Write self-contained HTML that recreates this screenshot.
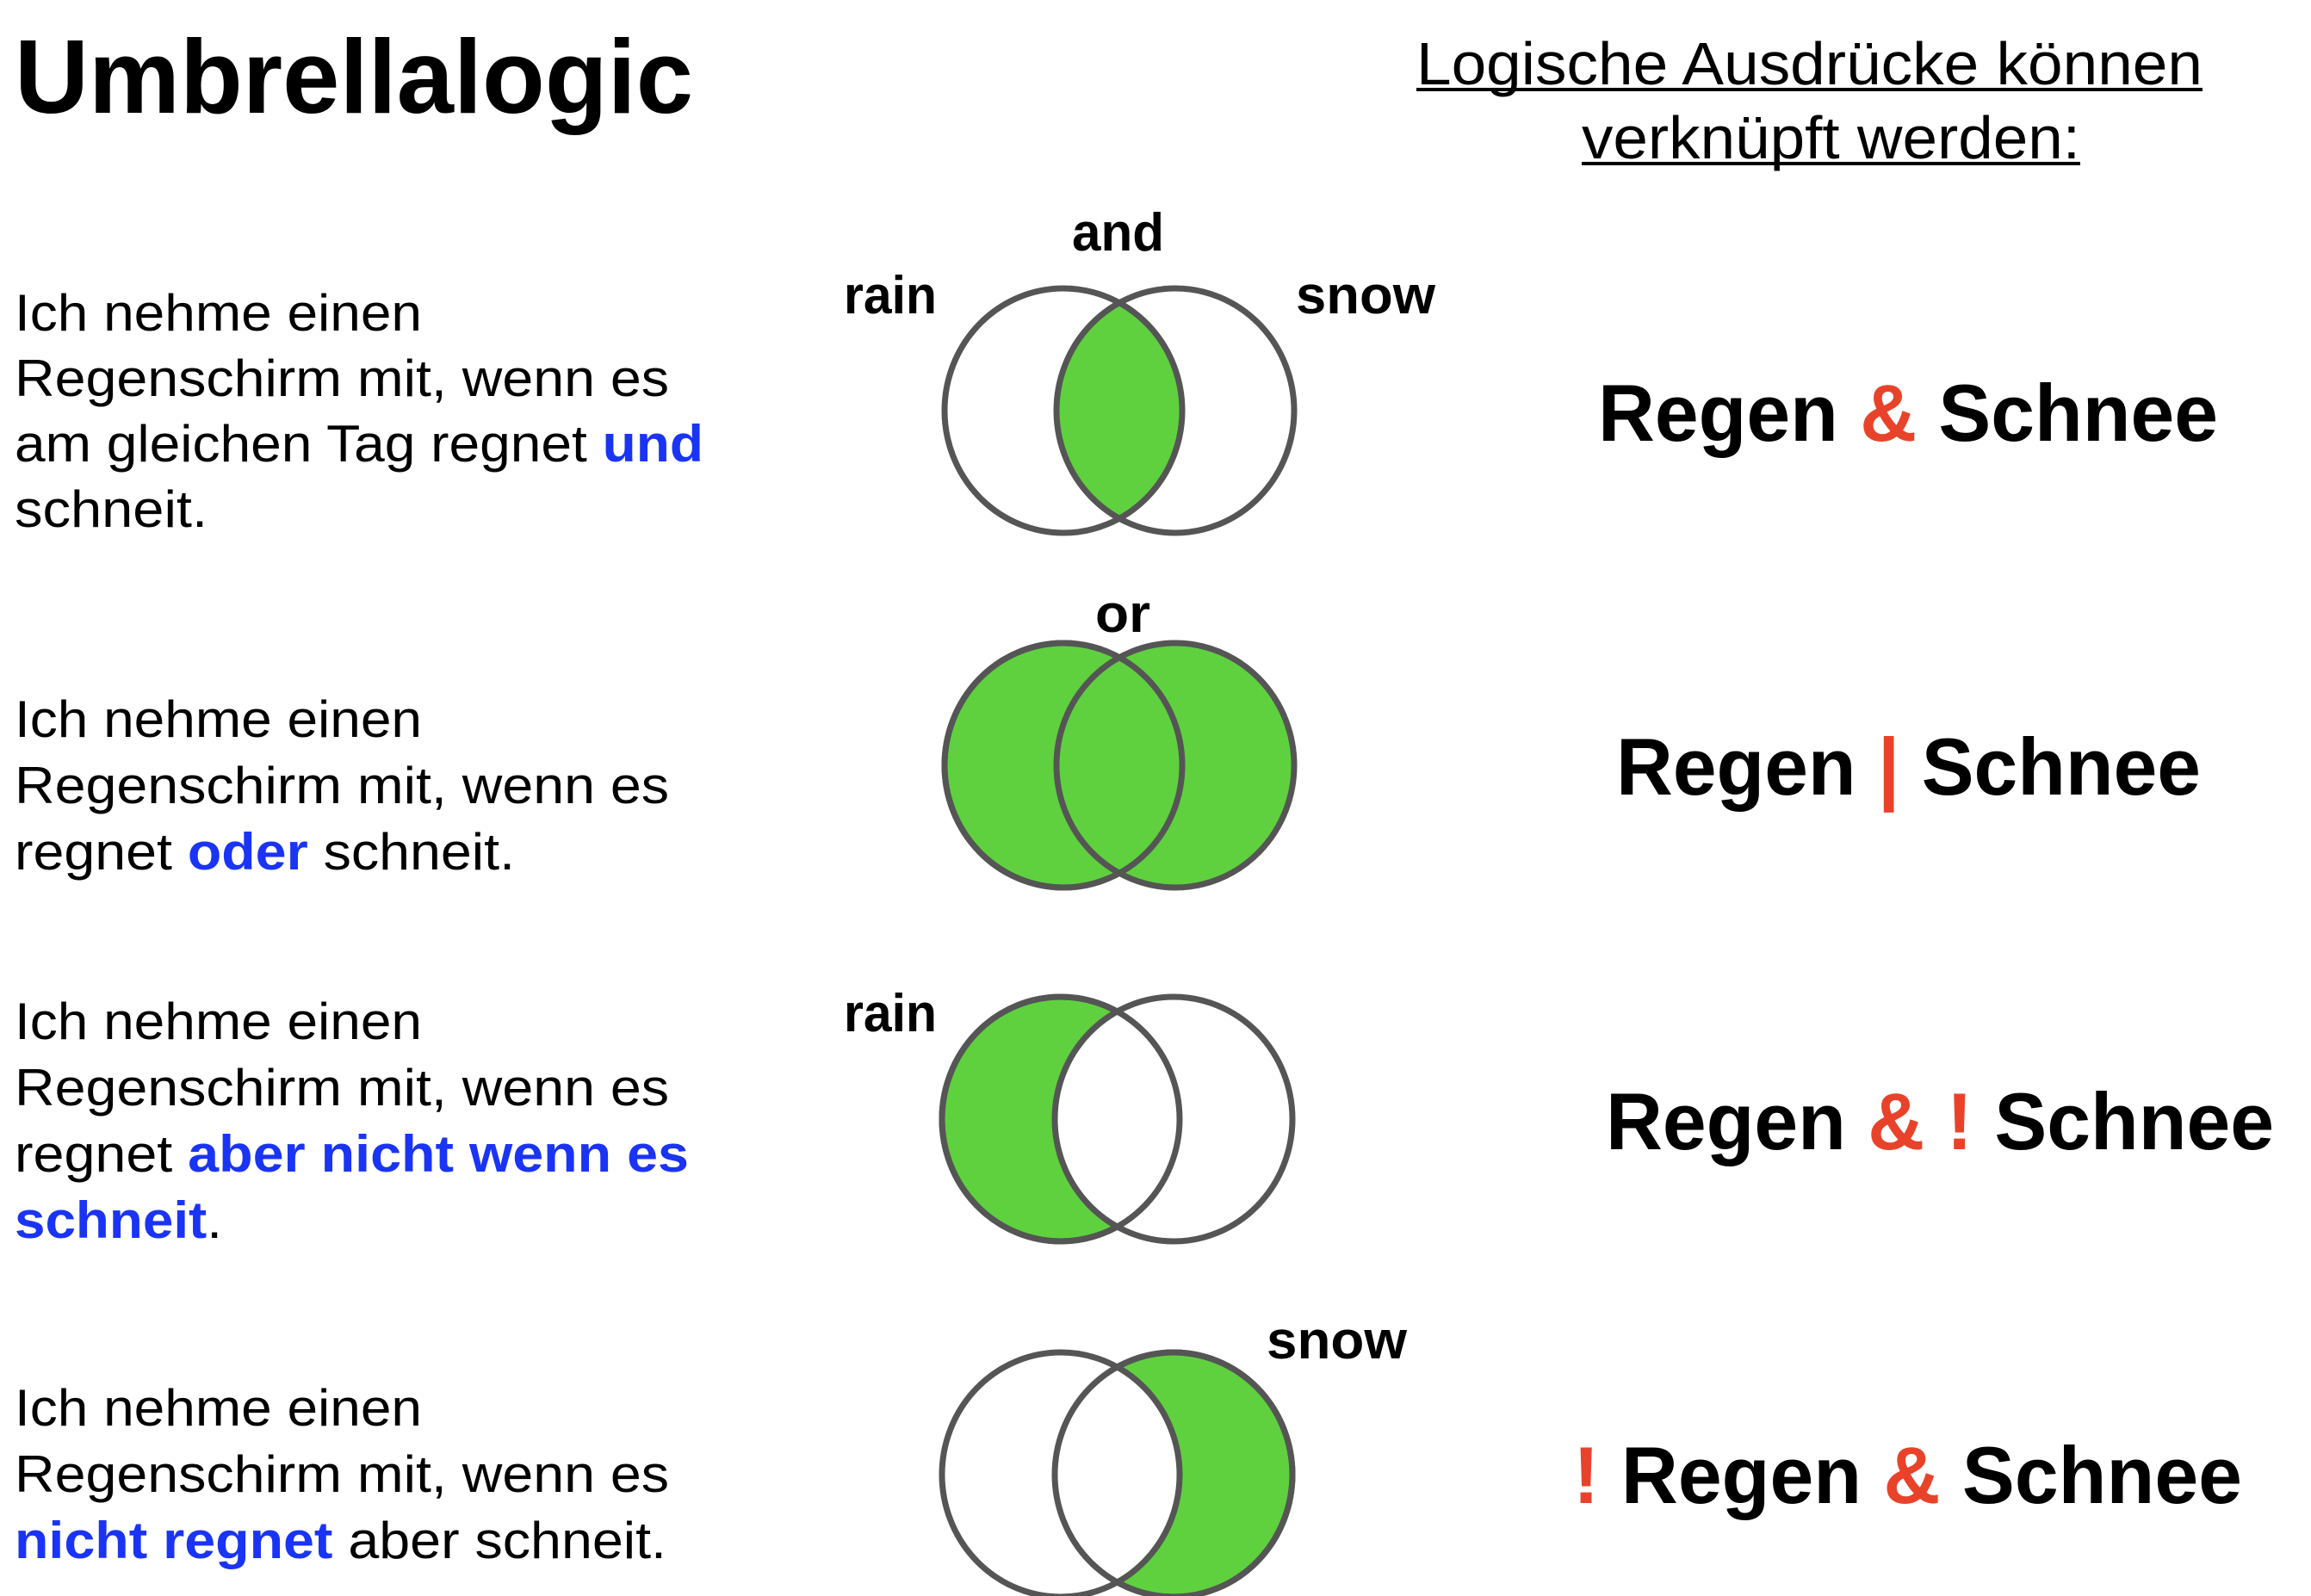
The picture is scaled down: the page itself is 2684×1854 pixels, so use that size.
<!DOCTYPE html>
<html><head><meta charset="utf-8"><style>html,body{margin:0;padding:0;background:#fff}svg{display:block}</style></head>
<body>
<svg width="2684" height="1854" viewBox="0 0 2684 1854" xmlns="http://www.w3.org/2000/svg" font-family="'Liberation Sans', Arial, sans-serif">
<defs>
<clipPath id="c1"><ellipse cx="1235" cy="477" rx="138" ry="142"/></clipPath>
</defs>
<rect width="2684" height="1854" fill="#fff"/>
<text x="17" y="131" font-size="122" font-weight="bold" textLength="788" lengthAdjust="spacingAndGlyphs">Umbrellalogic</text>
<text x="1645" y="98" font-size="70" textLength="913" lengthAdjust="spacingAndGlyphs">Logische Ausdrücke können</text>
<rect x="1645" y="102" width="913" height="4" fill="#000"/>
<text x="1837" y="184" font-size="70" textLength="579" lengthAdjust="spacingAndGlyphs">verknüpft werden:</text>
<rect x="1837" y="188" width="579" height="4" fill="#000"/>

<g font-size="60">
<text x="17" y="384" textLength="473" lengthAdjust="spacingAndGlyphs">Ich nehme einen</text>
<text x="17" y="460" textLength="760" lengthAdjust="spacingAndGlyphs">Regenschirm mit, wenn es</text>
<text x="17" y="536" textLength="800" lengthAdjust="spacingAndGlyphs">am gleichen Tag regnet <tspan fill="#1a34f5" font-weight="bold">und</tspan></text>
<text x="17" y="612" textLength="224" lengthAdjust="spacingAndGlyphs">schneit.</text>

<text x="17" y="856" textLength="473" lengthAdjust="spacingAndGlyphs">Ich nehme einen</text>
<text x="17" y="933" textLength="760" lengthAdjust="spacingAndGlyphs">Regenschirm mit, wenn es</text>
<text x="17" y="1010" textLength="581" lengthAdjust="spacingAndGlyphs">regnet <tspan fill="#1a34f5" font-weight="bold">oder</tspan> schneit.</text>

<text x="17" y="1207" textLength="473" lengthAdjust="spacingAndGlyphs">Ich nehme einen</text>
<text x="17" y="1284" textLength="760" lengthAdjust="spacingAndGlyphs">Regenschirm mit, wenn es</text>
<text x="17" y="1361" textLength="783" lengthAdjust="spacingAndGlyphs">regnet <tspan fill="#1a34f5" font-weight="bold">aber nicht wenn es</tspan></text>
<text x="17" y="1438" textLength="241" lengthAdjust="spacingAndGlyphs"><tspan fill="#1a34f5" font-weight="bold">schneit</tspan>.</text>

<text x="17" y="1656" textLength="473" lengthAdjust="spacingAndGlyphs">Ich nehme einen</text>
<text x="17" y="1733" textLength="760" lengthAdjust="spacingAndGlyphs">Regenschirm mit, wenn es</text>
<text x="17" y="1810" textLength="757" lengthAdjust="spacingAndGlyphs"><tspan fill="#1a34f5" font-weight="bold">nicht regnet</tspan> aber schneit.</text>
</g>

<g fill="none" stroke="#555" stroke-width="7">
<ellipse cx="1365" cy="477" rx="138" ry="142" fill="#5fd13f" stroke="none" clip-path="url(#c1)"/>
<ellipse cx="1235" cy="477" rx="138" ry="142"/>
<ellipse cx="1365" cy="477" rx="138" ry="142"/>
<ellipse cx="1235" cy="889" rx="138" ry="142" fill="#5fd13f"/>
<ellipse cx="1365" cy="889" rx="138" ry="142" fill="#5fd13f"/>
<ellipse cx="1235" cy="889" rx="138" ry="142"/>
<ellipse cx="1232" cy="1300" rx="138" ry="142" fill="#5fd13f"/>
<ellipse cx="1363" cy="1300" rx="138" ry="142" fill="#fff"/>
<ellipse cx="1232" cy="1300" rx="138" ry="142"/>
<ellipse cx="1363" cy="1713" rx="138" ry="142" fill="#5fd13f"/>
<ellipse cx="1232" cy="1713" rx="138" ry="142" fill="#fff"/>
<ellipse cx="1363" cy="1713" rx="138" ry="142"/>
</g>

<g font-size="62" font-weight="bold">
<text x="1245" y="291" textLength="107" lengthAdjust="spacingAndGlyphs">and</text>
<text x="980" y="364" textLength="108" lengthAdjust="spacingAndGlyphs">rain</text>
<text x="1505" y="364" textLength="162" lengthAdjust="spacingAndGlyphs">snow</text>
<text x="1272" y="734" textLength="64" lengthAdjust="spacingAndGlyphs">or</text>
<text x="980" y="1198" textLength="108" lengthAdjust="spacingAndGlyphs">rain</text>
<text x="1471" y="1578" textLength="163" lengthAdjust="spacingAndGlyphs">snow</text>
</g>

<g font-size="94" font-weight="bold">
<text x="1856" y="512" textLength="720" lengthAdjust="spacingAndGlyphs">Regen <tspan fill="#e8432a">&amp;</tspan> Schnee</text>
<text x="1877" y="923" textLength="679" lengthAdjust="spacingAndGlyphs">Regen <tspan fill="#e8432a">|</tspan> Schnee</text>
<text x="1865" y="1335" textLength="776" lengthAdjust="spacingAndGlyphs">Regen <tspan fill="#e8432a">&amp; !</tspan> Schnee</text>
<text x="1827" y="1746" textLength="777" lengthAdjust="spacingAndGlyphs"><tspan fill="#e8432a">!</tspan> Regen <tspan fill="#e8432a">&amp;</tspan> Schnee</text>
</g>
</svg>
</body></html>
